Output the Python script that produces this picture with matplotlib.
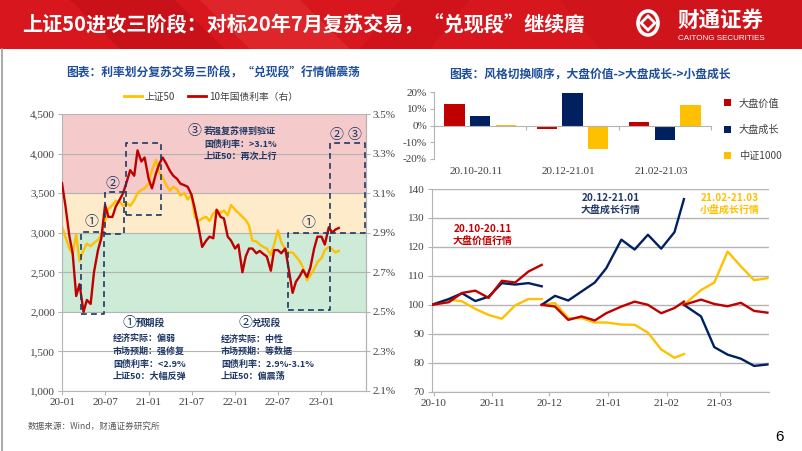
import matplotlib
matplotlib.use('Agg')
import matplotlib.pyplot as plt
import matplotlib.dates as mdates
import matplotlib.transforms as mtransforms
from matplotlib.patches import Rectangle, Polygon, Circle, Patch, Ellipse
from matplotlib.lines import Line2D
import numpy as np
import pandas as pd

plt.rcParams['font.family'] = ['Noto Sans CJK SC', 'DejaVu Sans']
plt.rcParams['axes.unicode_minus'] = False
SERIF = ['Liberation Serif', 'Noto Sans CJK SC']

# ---------------- data: left chart (semi-monthly readings) ----------------
left_start = '2020-01-01'
sz50 = [3080, 2950, 2800, 2730, 2980, 2640, 2780, 2860, 2830, 2870,
        2910, 2970, 3150, 3300, 3350, 3400, 3390, 3340, 3370, 3340,
        3410, 3500, 3540, 3560, 3620, 3790, 3920, 3760, 3700, 3610,
        3530, 3580, 3550, 3470, 3500, 3420, 3480, 3200, 3150, 3180,
        3200, 3150, 3240, 3290, 3250, 3280, 3220, 3350, 3290, 3250,
        3200, 3160, 3090, 2900, 2890, 2850, 2820, 2800, 2720, 2850,
        3030, 2880, 2790, 2750, 2750, 2700, 2640, 2560, 2400, 2460,
        2540, 2630, 2680, 2780, 2820, 2790, 2750, 2770]
cgb10y = [3.150, 3.040, 2.884, 2.796, 2.580, 2.640, 2.500, 2.560, 2.540, 2.700,
          2.812, 2.872, 3.040, 2.980, 2.980, 3.032, 3.068, 3.100, 3.160, 3.216,
          3.188, 3.316, 3.260, 3.280, 3.172, 3.124, 3.200, 3.248, 3.280, 3.252,
          3.212, 3.188, 3.172, 3.148, 3.140, 3.132, 3.092, 3.020, 2.920, 2.828,
          2.860, 2.880, 2.872, 3.016, 2.980, 2.972, 2.880, 2.860, 2.820, 2.840,
          2.700, 2.780, 2.820, 2.820, 2.796, 2.808, 2.792, 2.780, 2.708, 2.812,
          2.812, 2.796, 2.820, 2.720, 2.596, 2.652, 2.680, 2.712, 2.676, 2.724,
          2.820, 2.880, 2.880, 2.840, 2.928, 2.900, 2.916, 2.924]
left_xticks = ['2020-01-01', '2020-07-01', '2021-01-01', '2021-07-01',
               '2022-01-01', '2022-07-01', '2023-01-01']
left_xticklabels = ['20-01', '20-07', '21-01', '21-07', '22-01', '22-07', '23-01']
left_yticks = [1000, 1500, 2000, 2500, 3000, 3500, 4000, 4500]
right_yticks = [2.1, 2.3, 2.5, 2.7, 2.9, 3.1, 3.3, 3.5]
bands = [(3500, 4500, '#F4CACA'), (3000, 3500, '#FDEBC9'), (2000, 3000, '#CDEBD6')]
# stage boxes: (start, end, low, high)
boxes = [('2020-03-23', '2020-06-26', 1975, 3010),
         ('2020-07-01', '2020-09-20', 2990, 3520),
         ('2020-09-27', '2021-02-23', 3225, 4130),
         ('2022-08-12', '2023-02-06', 2025, 3000),
         ('2023-02-06', '2023-07-03', 3000, 4130)]
box_marks = [('2020-05-05', 3130, '①'), ('2020-08-01', 3617, '②'),
             ('2022-11-07', 3120, '①'), ('2023-03-07', 4235, '②'),
             ('2023-05-22', 4235, '③')]

# ---------------- data: bar chart ----------------
bar_periods = ['20.10-20.11', '20.12-21.01', '21.02-21.03']
bar_value = [13.0, -2.3, 2.0]
bar_growth = [6.0, 19.8, -8.6]
bar_csi1000 = [0.6, -14.0, 12.3]
bar_names = ['大盘价值', '大盘成长', '中证1000']

# ---------------- data: weekly line chart (three windows) ----------------
seg_dates = [
    ['2020-09-30', '2020-10-09', '2020-10-16', '2020-10-23', '2020-10-30',
     '2020-11-06', '2020-11-13', '2020-11-20', '2020-11-27'],
    ['2020-11-27', '2020-12-04', '2020-12-11', '2020-12-18', '2020-12-25',
     '2020-12-31', '2021-01-08', '2021-01-15', '2021-01-22', '2021-01-29',
     '2021-02-05', '2021-02-10'],
    ['2021-02-10', '2021-02-19', '2021-02-26', '2021-03-05', '2021-03-12',
     '2021-03-19', '2021-03-26'],
]
seg_value = [
    [100, 100.9, 104.1, 104.9, 102.4, 108.3, 107.7, 111.5, 113.8],
    [100, 99.4, 94.8, 96.0, 94.6, 97.1, 99.4, 101.1, 100.0, 97.1, 98.9, 101.1],
    [100, 101.8, 100.3, 99.5, 100.7, 97.9, 97.3],
]
seg_growth = [
    [100, 102.0, 104.0, 101.3, 102.8, 107.5, 107.0, 107.5, 106.4],
    [100, 103.1, 101.5, 104.6, 107.7, 112.6, 122.5, 119.1, 124.2, 119.4, 125.1, 136.5],
    [100, 96.0, 85.4, 82.8, 81.4, 78.9, 79.4],
]
seg_small = [
    [100, 101.8, 101.2, 98.6, 96.5, 95.2, 99.8, 102.0, 102.0],
    [100, 100.6, 95.4, 95.4, 93.9, 93.9, 93.2, 93.1, 90.4, 84.6, 81.7, 83.0],
    [100, 105.1, 107.7, 118.4, 113.3, 108.5, 109.2],
]
line_xticks = ['2020-10-01', '2020-11-01', '2020-12-01', '2021-01-01',
               '2021-02-01', '2021-03-01']
line_xticklabels = ['20-10', '20-11', '20-12', '21-01', '21-02', '21-03']
line_yticks = [70, 80, 90, 100, 110, 120, 130, 140]

# ---------------- styles ----------------
RED = '#C00000'
GOLD = '#FFC000'
NAVY = '#002060'
ANN = '#1F3864'
TITLE_BLUE = '#1E4E9A'
GRID = '#B4B4B4'
TICK = '#404040'

W, H = 802, 451
fig = plt.figure(figsize=(W / 100, H / 100), dpi=100)
fig.patch.set_facecolor('white')


def fx(x):
    return x / W


def fy(y):
    return 1 - y / H


# ---------------- banner ----------------
ban = fig.add_axes([0, fy(49), 1, 49 / H])
ban.set_xlim(0, W)
ban.set_ylim(49, 0)
ban.axis('off')
ban.add_patch(Rectangle((0, 0), W, 49, color='#D8161D', lw=0))
ban.add_patch(Polygon([(70, 0), (175, 0), (225, 49), (120, 49)], color='#C4101A', lw=0, alpha=0.7))
ban.add_patch(Polygon([(200, 0), (300, 0), (350, 49), (250, 49)], color='#E63A3A', lw=0, alpha=0.45))
ban.add_patch(Polygon([(400, 0), (470, 0), (430, 49), (360, 49)], color='#C9121B', lw=0, alpha=0.5))
ban.add_patch(Polygon([(560, 0), (802, 0), (802, 49), (600, 49)], color='#C8141C', lw=0, alpha=0.55))
ban.text(22, 25, '上证50进攻三阶段：对标20年7月复苏交易，“兑现段”继续磨',
         color='white', fontsize=14.5, fontweight='bold', va='center', ha='left')
ban.add_patch(Ellipse((648, 23), 20, 24, fill=False, ec='white', lw=2.6))
ban.add_patch(Polygon([(648, 16), (655, 23), (648, 30), (641, 23)], fill=False, ec='white', lw=2.0))
ban.text(677, 20, '财通证券', color='white', fontsize=15.5, fontweight='bold', va='center', ha='left')
ban.text(678, 38, 'CAITONG SECURITIES', color='white', fontsize=5.8, va='center', ha='left',
         family=['Liberation Sans', 'DejaVu Sans'])

# slide border
fig.add_artist(Line2D([fx(2), fx(2)], [0, fy(49)], color='#9A9A9A', lw=1.2))

# ---------------- left chart ----------------
axL = fig.add_axes([fx(62), fy(391), 304 / W, 277 / H])
dates_L = pd.date_range(left_start, periods=len(sz50), freq='SMS')
for lo, hi, c in bands:
    axL.axhspan(lo, hi, color=c, lw=0, zorder=0)
axL.plot(dates_L, sz50, color=GOLD, lw=1.7, zorder=2)
axL.set_ylim(1000, 4500)
axL.set_yticks(left_yticks)
axL.set_yticklabels([f'{v:,}' for v in left_yticks], fontsize=8, color=TICK, family=SERIF)
axL.yaxis.grid(True, color=GRID, lw=0.8)
axL.set_axisbelow(True)
axL.spines['top'].set_visible(False)
for s in ['left', 'bottom', 'right']:
    axL.spines[s].set_color(GRID)
    axL.spines[s].set_linewidth(0.8)
axL.tick_params(axis='both', length=3, color=GRID, pad=2)

axR = axL.twinx()
axR.plot(dates_L, cgb10y, color=RED, lw=1.7, zorder=3)
axR.set_ylim(2.1, 3.5)
axR.set_yticks(right_yticks)
axR.set_yticklabels([f'{v:.1f}%' for v in right_yticks], fontsize=8, color=TICK, family=SERIF)
axR.spines['top'].set_visible(False)
axR.spines['right'].set_color(GRID)
axR.spines['left'].set_visible(False)
axR.spines['bottom'].set_visible(False)
axR.tick_params(axis='y', length=3, color=GRID, pad=2)

for d0, d1, lo, hi in boxes:
    t0, t1 = pd.Timestamp(d0), pd.Timestamp(d1)
    axR.plot([t0, t1, t1, t0, t0], [lo, lo, hi, hi, lo], transform=axL.transData,
             color=ANN, lw=1.2, ls=(0, (3.5, 2.5)), zorder=4, clip_on=False)
for d, v, s in box_marks:
    axR.text(pd.Timestamp(d), v, s, transform=axL.transData, color=ANN, fontsize=10,
             ha='center', va='center', zorder=5)

axL.set_xlim(pd.Timestamp('2020-01-01'), pd.Timestamp('2023-07-08'))
axL.set_xticks([pd.Timestamp(t) for t in left_xticks])
axL.set_xticklabels(left_xticklabels, fontsize=8, color=TICK, family=SERIF)

handles = [Line2D([], [], color=GOLD, lw=2), Line2D([], [], color=RED, lw=2)]
axR.legend(handles, ['上证50', '10年国债利率（右）'], loc='center', bbox_to_anchor=(0.49, 1.062),
           ncol=2, frameon=False, fontsize=7, handlelength=1.8, columnspacing=1.4,
           handletextpad=0.3, labelcolor='#404040')

fig.text(fx(213), fy(73), '图表：利率划分复苏交易三阶段，“兑现段”行情偏震荡', color=TITLE_BLUE,
         fontsize=8.5, fontweight='bold', ha='center', va='center')

# annotation texts in left chart
fig.text(fx(194), fy(131.5), '③', color=ANN, fontsize=10, ha='center', va='center')
for i, s in enumerate(['若强复苏得到验证', '国债利率：>3.1%', '上证50：再次上行']):
    fig.text(fx(204), fy(131.5 + 12.5 * i), s, color=ANN, fontsize=6.5, fontweight='bold',
             ha='left', va='center')

fig.text(fx(129), fy(322.5), '①', color=ANN, fontsize=10, ha='center', va='center')
fig.text(fx(136), fy(323), '预期段', color=ANN, fontsize=7, fontweight='bold', ha='left', va='center')
for i, s in enumerate(['经济实际：偏弱', '市场预期：强修复', '国债利率：<2.9%', '上证50：大幅反弹']):
    fig.text(fx(113), fy(339 + 12.6 * i), s, color=ANN, fontsize=6.5, fontweight='bold',
             ha='left', va='center')

fig.text(fx(245), fy(322.5), '②', color=ANN, fontsize=10, ha='center', va='center')
fig.text(fx(252), fy(323), '兑现段', color=ANN, fontsize=7, fontweight='bold', ha='left', va='center')
for i, s in enumerate(['经济实际：中性', '市场预期：等数据', '国债利率：2.9%-3.1%', '上证50：偏震荡']):
    fig.text(fx(221), fy(339 + 12.6 * i), s, color=ANN, fontsize=6.5, fontweight='bold',
             ha='left', va='center')

fig.text(fx(28), fy(426), '数据来源：Wind，财通证券研究所', color='#595959', fontsize=6.2,
         ha='left', va='center')

# ---------------- right top: bar chart ----------------
axB = fig.add_axes([fx(434), fy(159), 277 / W, 66.7 / H])
xb = np.arange(len(bar_periods))
off, bw = 0.278, 0.22
axB.bar(xb - off, bar_value, bw, color=RED, label=bar_names[0], zorder=2)
axB.bar(xb, bar_growth, bw, color=NAVY, label=bar_names[1], zorder=2)
axB.bar(xb + off, bar_csi1000, bw, color=GOLD, label=bar_names[2], zorder=2)
axB.set_xlim(-0.5, 2.5)
axB.set_ylim(-20, 20)
axB.set_yticks([-20, -10, 0, 10, 20])
axB.set_yticklabels([f'{v}%' for v in [-20, -10, 0, 10, 20]], fontsize=8, color=TICK, family=SERIF)
axB.spines['bottom'].set_position(('data', 0))
axB.spines['top'].set_visible(False)
axB.spines['right'].set_visible(False)
for s in ['left', 'bottom']:
    axB.spines[s].set_color(GRID)
    axB.spines[s].set_linewidth(0.8)
axB.set_xticks([-0.5, 0.5, 1.5, 2.5])
axB.set_xticklabels([])
axB.tick_params(axis='both', length=3, color=GRID, pad=2)
tb = mtransforms.blended_transform_factory(axB.transData, axB.transAxes)
for i, p in enumerate(bar_periods):
    axB.text(i - 0.04, -0.18, p, transform=tb, ha='center', va='center', fontsize=8,
             color=TICK, family=SERIF)
axB.legend(loc='center left', bbox_to_anchor=(1.03, 0.44), frameon=False, fontsize=7.3,
           handlelength=0.7, handleheight=0.7, labelspacing=1.6, handletextpad=0.7,
           borderpad=0, labelcolor='#404040')

fig.text(fx(590), fy(74), '图表：风格切换顺序，大盘价值->大盘成长->小盘成长', color=TITLE_BLUE,
         fontsize=8.5, fontweight='bold', ha='center', va='center')

# ---------------- right bottom: line chart ----------------
axN = fig.add_axes([fx(431.7), fy(391.7), 337.6 / W, 202.7 / H])
for dts, v, g, sm in zip(seg_dates, seg_value, seg_growth, seg_small):
    dd = pd.to_datetime(dts)
    axN.plot(dd, sm, color=GOLD, lw=1.7, zorder=3)
    axN.plot(dd, g, color=NAVY, lw=1.7, zorder=3)
    axN.plot(dd, v, color=RED, lw=1.7, zorder=4)
axN.set_xlim(pd.Timestamp('2020-09-30'), pd.Timestamp('2021-03-27'))
axN.set_ylim(70, 140)
axN.set_yticks(line_yticks)
axN.set_yticklabels([str(v) for v in line_yticks], fontsize=8, color=TICK, family=SERIF)
axN.set_xticks([pd.Timestamp(t) for t in line_xticks])
axN.set_xticklabels(line_xticklabels, fontsize=8, color=TICK, family=SERIF)
axN.yaxis.grid(True, color=GRID, lw=1.0)
axN.set_axisbelow(True)
axN.spines['top'].set_visible(False)
axN.spines['right'].set_visible(False)
for s in ['left', 'bottom']:
    axN.spines[s].set_color(GRID)
    axN.spines[s].set_linewidth(0.8)
axN.tick_params(axis='both', length=3, color=GRID, pad=2)

for (cx, y1, t1, t2, col) in [(483, 229.3, '20.10-20.11', '大盘价值行情', RED),
                               (611, 198.3, '20.12-21.01', '大盘成长行情', ANN),
                               (730, 198.3, '21.02-21.03', '小盘成长行情', GOLD)]:
    fig.text(fx(cx), fy(y1), t1, color=col, fontsize=7.2, fontweight='bold', ha='center', va='center')
    fig.text(fx(cx), fy(y1 + 12.5), t2, color=col, fontsize=7.2, fontweight='bold', ha='center', va='center')

fig.text(fx(780), fy(437), '6', color='black', fontsize=11, ha='center', va='center',
         family=['Liberation Sans', 'DejaVu Sans'])

fig.savefig('out.png', dpi=100, facecolor='white')
